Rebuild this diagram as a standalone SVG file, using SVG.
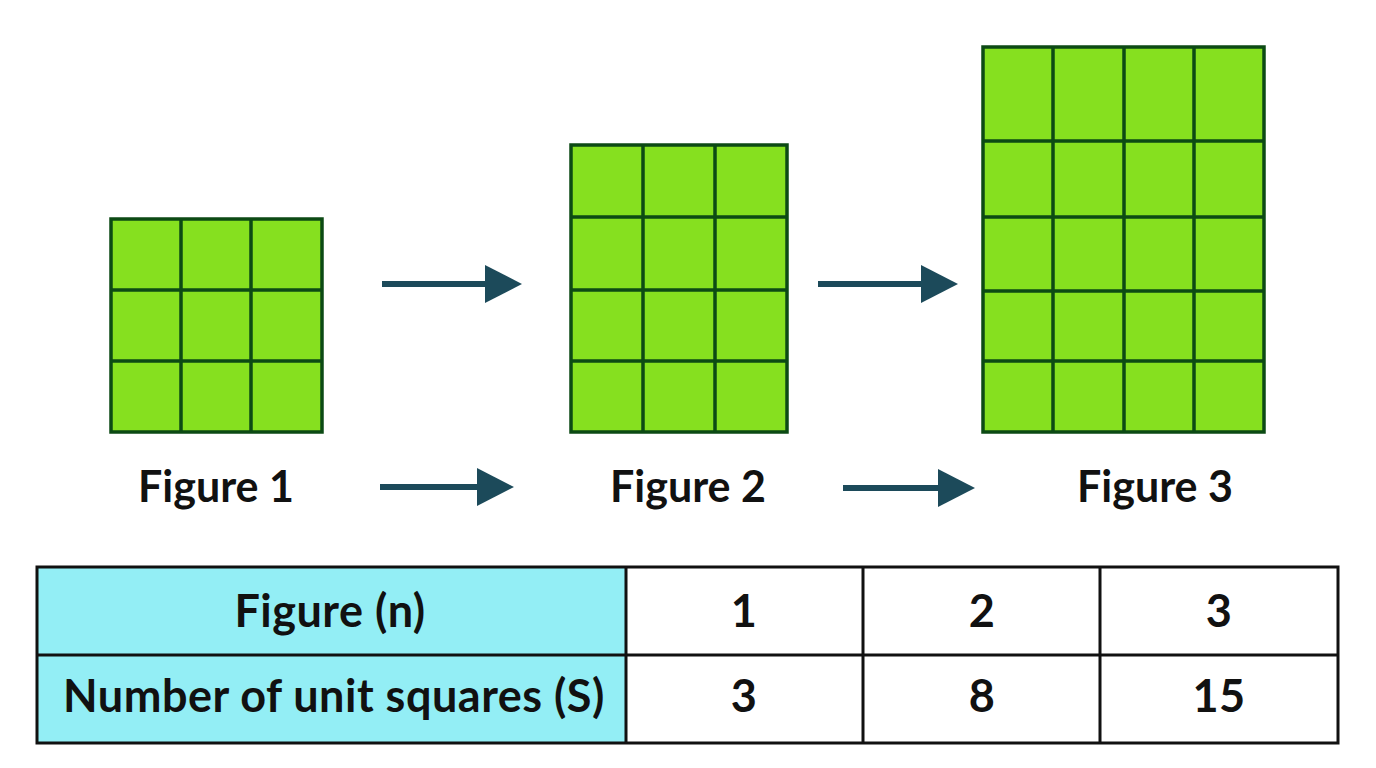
<svg xmlns="http://www.w3.org/2000/svg" width="1376" height="768" viewBox="0 0 1376 768">
<defs>
<style>
.cell{fill:#86e01f;stroke:#0c4a14;stroke-width:3.5}
.gl{stroke:#0c4a14;stroke-width:3.5;fill:none}
.arr{stroke:#1c4a5a;stroke-width:6;fill:none}
.lbl{font-family:Lato,"Liberation Sans",sans-serif;font-weight:700;font-size:43px;fill:#111;text-anchor:middle}
.tt{font-family:Lato,"Liberation Sans",sans-serif;font-weight:700;font-size:45px;letter-spacing:0.5px;fill:#111;text-anchor:middle}
.tb{stroke:#111;stroke-width:3;fill:none}
</style>
<marker id="ah" markerUnits="userSpaceOnUse" markerWidth="40" markerHeight="40" refX="2" refY="19" orient="auto" viewBox="0 0 40 40">
<path d="M0,0 L37,19 L0,38 Z" fill="#1c4a5a"/>
</marker>
</defs>
<rect width="1376" height="768" fill="#ffffff"/>

<g id="figure1">
<rect class="cell" x="111" y="219" width="211" height="213"/>
<path class="gl" d="M181,219V432M251,219V432M111,290H322M111,361H322"/>
<text class="lbl" x="216" y="502">Figure 1</text>
</g>

<g id="figure2">
<rect class="cell" x="571" y="145" width="216" height="287"/>
<path class="gl" d="M643,145V432M715,145V432M571,217H787M571,290H787M571,361H787"/>
<text class="lbl" x="688" y="502">Figure 2</text>
</g>

<g id="figure3">
<rect class="cell" x="983" y="47" width="281" height="385"/>
<path class="gl" d="M1053,47V432M1124,47V432M1194,47V432M983,141H1264M983,217H1264M983,291H1264M983,361H1264"/>
<text class="lbl" x="1155" y="502">Figure 3</text>
</g>

<g id="connectors">
<line class="arr" x1="382" y1="284" x2="487" y2="284" marker-end="url(#ah)"/>
<line class="arr" x1="818" y1="284" x2="923" y2="284" marker-end="url(#ah)"/>
<line class="arr" x1="380" y1="487" x2="479" y2="487" marker-end="url(#ah)"/>
<line class="arr" x1="843" y1="488" x2="940" y2="488" marker-end="url(#ah)"/>
</g>

<g id="table">
<rect x="37" y="567" width="589" height="176" fill="#93eef5"/>
<rect x="626" y="567" width="712" height="176" fill="#ffffff"/>
<rect class="tb" x="37" y="567" width="1301" height="176"/>
<path class="tb" d="M37,655H1338M626,567V743M863,567V743M1100,567V743"/>
<text class="tt" x="330" y="627">Figure (n)</text>
<text class="tt" x="334" y="712">Number of unit squares (S)</text>
<text class="tt" x="744" y="627">1</text>
<text class="tt" x="982" y="627">2</text>
<text class="tt" x="1219" y="627">3</text>
<text class="tt" x="744" y="712">3</text>
<text class="tt" x="982" y="712">8</text>
<text class="tt" x="1219" y="712">15</text>
</g>
</svg>
